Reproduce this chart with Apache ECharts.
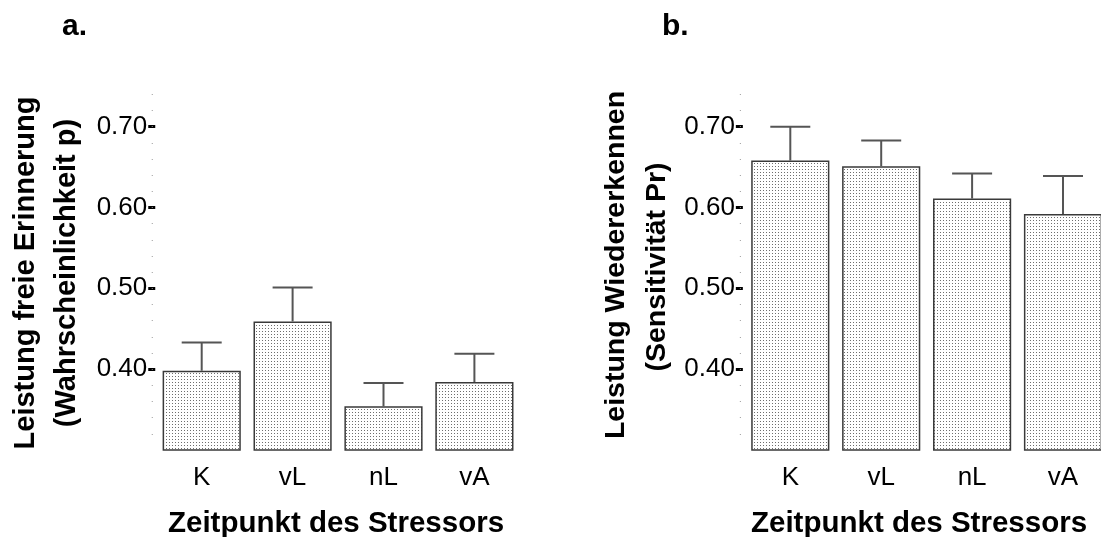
<!DOCTYPE html>
<html>
<head>
<meta charset="utf-8">
<script src="https://cdn.jsdelivr.net/npm/echarts@6/dist/echarts.min.js"></script>
<style>
  html, body { margin: 0; padding: 0; background: #ffffff; }
  #chart { width: 1101px; height: 537px; }
</style>
</head>
<body>
<div id="chart"></div>
<script>
// Stress timing groups
const categories = ['K', 'vL', 'nL', 'vA'];

// a. free recall (probability p): means and standard errors
const recallMeans = [0.398, 0.459, 0.354, 0.384];
const recallErrors = [0.035, 0.042, 0.029, 0.035];

// b. recognition (sensitivity Pr): means and standard errors
const recogMeans = [0.658, 0.651, 0.611, 0.592];
const recogErrors = [0.042, 0.032, 0.031, 0.047];

// y axis labels and range
const yTicks = [0.40, 0.50, 0.60, 0.70];
const yMin = 0.30;
const yMax = 0.74;
const dotStep = 0.02;

const FONT = '"Liberation Sans", Arial, Helvetica, sans-serif';

// dotted fill texture for the bars
function dotTexture() {
  const c = document.createElement('canvas');
  c.width = 3; c.height = 3;
  const g = c.getContext('2d');
  g.fillStyle = '#ffffff';
  g.fillRect(0, 0, 3, 3);
  g.fillStyle = '#6e6e6e';
  g.fillRect(1, 1, 1, 1);
  return c;
}
const barFill = { image: dotTexture(), repeat: 'repeat' };

// small dots along the value axis every 0.02
const dotValues = [];
for (let v = yMin + dotStep; v <= yMax + 1e-9; v += dotStep) dotValues.push(+v.toFixed(2));

function errorRender(params, api) {
  const x = api.value(0);
  const p0 = api.coord([x, api.value(1)]);
  const p1 = api.coord([x, api.value(2)]);
  const half = api.size([1, 0])[0] * 0.22;
  const style = { stroke: '#555555', lineWidth: 2 };
  return {
    type: 'group',
    children: [
      { type: 'line', shape: { x1: p0[0], y1: p0[1], x2: p1[0], y2: p1[1] }, style: style },
      { type: 'line', shape: { x1: p1[0] - half, y1: p1[1], x2: p1[0] + half, y2: p1[1] }, style: style }
    ]
  };
}

const gridTop = 94.3;
const gridHeight = 355.7;
const gridWidth = 363.6;
const grids = [
  { left: 156.25, top: gridTop, width: gridWidth, height: gridHeight, outerBoundsMode: 'none', containLabel: false },
  { left: 744.85, top: gridTop, width: gridWidth, height: gridHeight, outerBoundsMode: 'none', containLabel: false }
];

function xAxisFor(i) {
  return {
    type: 'category', gridIndex: i, data: categories,
    axisLine: { show: false }, axisTick: { show: false },
    axisLabel: { color: '#000', fontFamily: FONT, fontSize: 26, margin: 15 }
  };
}

function yAxesFor(i, majorOffset, dotOffset) {
  return [
    {
      type: 'value', gridIndex: i, position: 'left', min: yMin, max: yMax, interval: 0.1,
      offset: majorOffset,
      axisLine: { show: false },
      splitLine: { show: false },
      axisTick: { show: true, length: 7, customValues: yTicks, lineStyle: { color: '#000', width: 3 } },
      axisLabel: {
        customValues: yTicks, color: '#000', fontFamily: FONT, fontSize: 26, margin: 8,
        formatter: v => v.toFixed(2)
      }
    },
    {
      type: 'value', gridIndex: i, position: 'left', min: yMin, max: yMax, interval: dotStep,
      offset: dotOffset,
      axisLine: { show: false },
      splitLine: { show: false },
      axisTick: { show: true, length: 1, customValues: dotValues, lineStyle: { color: '#9a9a9a', width: 1 } },
      axisLabel: { show: false }
    }
  ];
}

function barSeries(i, values) {
  return {
    type: 'bar', xAxisIndex: i, yAxisIndex: i * 2, data: values,
    barWidth: '86%', silent: true,
    itemStyle: { color: barFill, borderColor: '#3a3a3a', borderWidth: 1.5 }
  };
}

function errorSeries(i, values, errors) {
  return {
    type: 'custom', xAxisIndex: i, yAxisIndex: i * 2, silent: true, z: 3,
    renderItem: errorRender,
    data: values.map((v, k) => [k, v, v + errors[k]])
  };
}

function titleText(text, x, y, rotate, size) {
  return {
    type: 'text', x: x, y: y, rotation: rotate ? Math.PI / 2 : 0,
    style: {
      text: text, fill: '#000', font: 'bold ' + size + 'px ' + FONT,
      textAlign: 'center', textVerticalAlign: 'middle'
    }
  };
}

const chart = echarts.init(document.getElementById('chart'), null, { renderer: 'canvas' });
chart.setOption({
  animation: false,
  backgroundColor: '#ffffff',
  grid: grids,
  xAxis: [xAxisFor(0), xAxisFor(1)],
  yAxis: [...yAxesFor(0, 1, 3.5), ...yAxesFor(1, 2, 4)],
  series: [
    barSeries(0, recallMeans),
    errorSeries(0, recallMeans, recallErrors),
    barSeries(1, recogMeans),
    errorSeries(1, recogMeans, recogErrors)
  ],
  graphic: [
    { type: 'text', left: 62, top: 12, style: { text: 'a.', fill: '#000', font: 'bold 30px ' + FONT } },
    { type: 'text', left: 662, top: 12, style: { text: 'b.', fill: '#000', font: 'bold 30px ' + FONT } },
    titleText('Zeitpunkt des Stressors', 336, 524, false, 29.5),
    titleText('Zeitpunkt des Stressors', 919, 524, false, 29.5),
    titleText('Leistung freie Erinnerung', 26, 273, true, 29),
    titleText('(Wahrscheinlichkeit p)', 67, 273, true, 29),
    titleText('Leistung Wiedererkennen', 616, 265, true, 28.5),
    titleText('(Sensitivität Pr)', 657, 267, true, 28.5)
  ]
});
</script>
</body>
</html>
